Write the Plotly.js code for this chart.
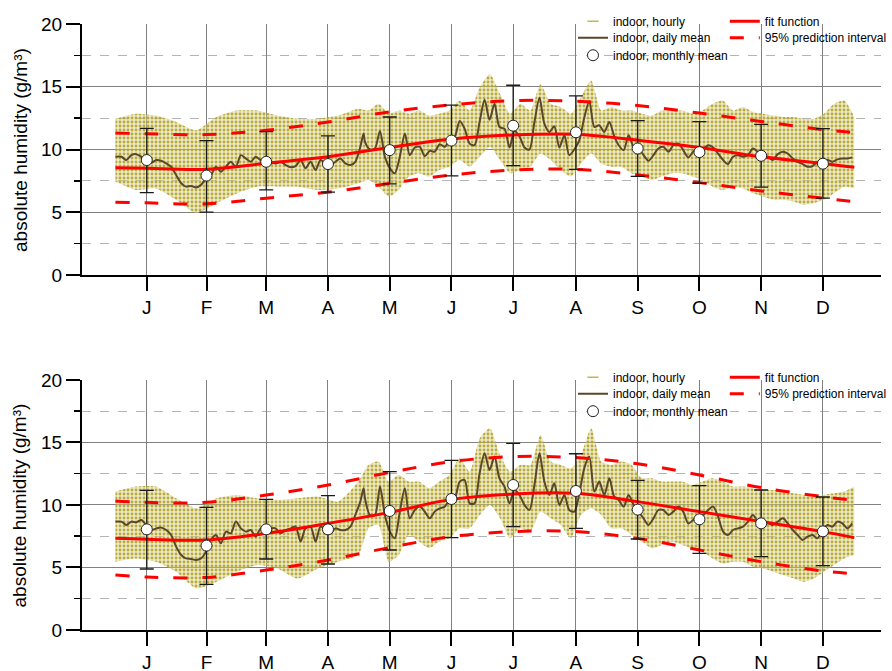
<!DOCTYPE html>
<html>
<head>
<meta charset="utf-8">
<script src="https://cdn.plot.ly/plotly-3.0.1.min.js"></script>
<style>html,body{margin:0;padding:0;background:#fff;}#chart{width:892px;height:671px;}</style>
</head>
<body>
<div id="chart"></div>
<script>
// ---------- axis labels ----------
const monthTickDays = [15.5,45,74.5,105,135.5,166,196.5,227.5,258,288.5,319,349.5];
const monthLabels = ['J','F','M','A','M','J','J','A','S','O','N','D'];

// ---------- daily mean (day of year) ----------
const dailyDaysA = [0,3,5.4,7.9,10.3,12.8,15.2,17.7,20.2,22.6,25.1,27.5,30,32.5,34.9,37.4,39.8,42.3,44.8,47.2,49.7,52.1,54.6,57,59.5,62,64.4,66.9,69.3,71.8,74.3,76.7,79.2,81.6,84.1,86.6,89,91.5,93.9,96.4,98.9,101.3,103.8,106.2,108.7,111.1,113.6,116.1,118.5,121,122.6];
const dailyDaysB = [123.3,125.7,128.2,130.7,133.1,135.6,138.0,140.5,143.0,145.4,147.9,150.4,152.8,155.3,157.7,160.2,162.7,165.1,167.6,170.1,172.5,175.0,177.4,179.9,182.4,184.8,187.3,189.7,192.2,194.7,197.1,199.6,202.1,204.5,207.0,209.5,211.9,214.4,216.8,219.3,221.8,224.2,226.7,229.2,231.6,234.1,236.6,239.0,241.5,244.0,246.4];
const dailyDaysC = [248.6,251.1,253.5,256.0,258.4,260.9,263.3,265.8,268.2,270.7,273.2,275.6,278.1,280.5,283.0,285.4,287.9,290.4,292.8,295.3,297.7,300.2,302.6,305.1,307.5,310.0,312.5,314.9,317.4,319.8,322.3,324.7,327.2,329.7,332.1,334.6,337.0,339.5,341.9,344.4,346.8,349.3,351.8,354.2,356.7,359.1,361.6,364.0];

const topDailyA = [9.42,9.42,9.16,9.55,9.63,9.42,9.16,8.94,9.16,9.10,8.89,8.63,7.97,7.31,7.04,7.10,6.97,7.18,7.70,7.97,8.63,8.23,8.63,9.02,8.63,9.55,9.29,9.02,9.42,9.16,9.16,9.02,8.89,9.02,8.76,8.58,8.68,9.16,8.50,9.02,8.36,9.16,8.89,8.76,9.02,9.29,8.89,8.76,9.02,10.21,11.27];
const topDailyB = [10.61,10.0,10.08,11.48,9.42,8.5,8.1,9.42,11.27,9.55,10.16,10.21,9.47,9.89,9.82,10.42,10.21,10.74,11.0,12.27,11.66,10.47,10.34,12.19,13.96,12.37,13.64,11.79,11.66,10.16,11.48,11.06,10.16,10.0,12.19,14.12,12.06,11.4,11.85,10.16,11.13,9.55,10.0,10.74,12.53,13.85,11.79,11.93,11.4,12.19,11.06];
const topDailyC = [10.34,9.95,11.13,10.21,10.08,9.55,9.1,9.55,10.08,10.21,9.82,10.34,10.47,9.95,9.37,9.82,10.08,10.08,10.34,10.16,9.68,9.16,8.84,9.42,9.55,9.42,9.55,10.08,9.82,9.55,9.42,9.16,9.63,9.82,9.68,9.29,9.02,8.84,8.63,8.68,9.02,8.84,9.16,9.02,9.21,9.29,9.29,9.37];

const botDailyA = [8.67,8.67,8.4,8.67,8.61,8.8,8.4,8.0,8.13,8.19,8.0,7.6,6.67,6.0,5.73,5.68,5.6,5.73,6.27,7.2,7.6,6.93,7.87,7.73,8.67,8.13,7.87,8.0,7.47,8.13,7.92,8.13,8.13,7.73,8.0,8.13,8.27,7.07,8.13,8.27,7.07,8.27,8.0,7.73,8.13,8.0,8.0,8.27,9.2,10.27,11.33];
const botDailyB = [10.53,9.2,9.2,11.47,9.2,7.87,7.33,9.47,11.33,8.93,9.6,9.87,9.47,8.93,9.47,9.73,9.87,10.4,10.53,11.87,12.0,10.13,10.13,12.53,14.13,12.8,13.87,12.13,11.47,10.13,11.2,10.8,10.0,9.6,11.6,14.13,11.87,10.8,11.73,10.0,10.8,9.6,9.47,10.93,12.93,13.87,11.07,11.87,10.8,12.13,10.67];
const botDailyC = [10.4,9.87,10.8,10.0,9.47,8.93,8.4,8.93,9.6,9.6,9.2,9.47,9.87,9.47,8.53,8.8,9.2,9.2,9.6,9.87,9.07,7.87,7.6,8.0,8.13,8.27,8.67,9.2,8.67,8.4,8.53,8.4,8.67,8.93,8.53,8.0,7.6,7.2,7.47,7.6,7.33,8.0,8.4,8.27,8.67,8.53,8.13,8.53];

// ---------- hourly spread (envelope of the hourly points) ----------
const envDays = [0,10,20,30,40,50,60,70,80,90,100,110,120,125,130,135,140,145,150,155,160,165,170,175,180,185,190,195,200,205,210,215,220,225,230,235,240,245,250,255,260,265,270,275,280,285,290,295,300,305,310,315,320,325,330,335,340,345,350,355,360,365];
const topHourlyHigh = [12.45,12.85,12.7,12.2,11.53,12.6,13.1,13.1,12.7,12.45,12.45,12.7,13.25,13.1,13.64,12.85,13.1,12.85,13.1,12.7,12.85,13.1,13.9,13.1,14.96,16.0,14.43,12.85,13.64,13.1,15.22,13.64,13.38,12.85,14.17,15.49,13.1,13.38,13.1,13.1,12.85,12.7,13.1,13.1,13.1,12.85,13.1,13.64,13.9,13.1,13.38,12.98,12.85,12.7,12.59,12.59,12.45,12.45,12.85,13.64,13.9,12.59];
const topHourlyLow = [7.44,6.78,6.9,6.0,4.93,5.73,6.5,7.04,7.04,7.04,6.78,6.9,7.3,7.57,7.04,6.25,6.78,7.84,8.1,7.84,8.36,8.63,9.16,8.63,9.42,10.2,9.16,8.1,8.36,8.63,9.68,9.16,8.36,7.84,8.89,9.68,8.89,8.63,8.63,8.1,7.84,7.57,7.84,8.1,8.1,7.84,7.57,7.04,6.78,7.04,6.9,6.52,6.25,5.99,5.99,5.86,5.59,5.73,5.99,6.52,7.04,6.9];
const botHourlyHigh = [11.07,11.47,11.47,10.53,9.73,10.53,10.8,10.53,10.4,10.53,10.67,10.27,11.87,13.2,13.47,11.87,12.4,11.87,11.87,11.33,11.87,12.4,13.73,12.67,15.33,16.13,14.0,12.67,13.2,13.2,15.6,13.47,13.2,12.93,14.0,16.13,13.47,13.2,13.47,13.2,12.13,12.13,11.87,11.87,11.87,11.6,11.87,12.13,11.87,11.47,11.47,11.33,11.2,11.2,11.07,10.93,10.8,10.67,10.8,10.93,11.07,11.47];
const botHourlyLow = [5.47,5.73,5.47,4.67,3.33,3.87,4.67,5.2,4.93,4.13,4.93,5.47,6.0,8.13,8.4,5.47,6.0,7.6,7.07,6.53,7.07,7.33,8.13,8.13,9.2,10.0,8.93,7.33,8.13,7.87,9.47,8.93,8.4,7.33,9.2,9.73,9.2,8.13,8.13,7.6,7.07,6.53,6.8,7.07,6.8,6.53,6.27,5.73,5.33,5.47,5.47,5.07,4.93,4.67,4.4,4.13,3.87,4.13,4.67,5.2,5.73,6.0];

// ---------- monthly means with error bars ----------
const topMonthly = [9.16,7.92,9.02,8.84,9.95,10.71,11.9,11.37,10.08,9.79,9.5,8.87];
const topMonthlyHigh = [11.69,10.71,11.42,11.08,12.59,13.54,15.12,14.27,12.3,12.22,12.0,11.66];
const topMonthlyLow = [6.57,5.01,6.78,6.6,7.26,7.89,8.71,8.42,7.86,7.31,7.0,6.12];
const botMonthly = [8.05,6.75,8.05,8.05,9.52,10.48,11.6,11.12,9.63,8.85,8.53,7.89];
const botMonthlyHigh = [11.17,9.81,10.45,10.75,12.67,13.57,14.93,14.1,11.97,11.55,11.2,10.64];
const botMonthlyLow = [4.88,3.65,5.68,5.28,6.4,7.39,8.27,8.13,7.28,6.13,5.87,5.15];

// ---------- fit function and 95% prediction interval ----------
const fitDays = [0,15.5,45,74.5,105,135.5,166,196.5,227.5,258,288.5,319,349.5,365];
const topFit = [8.55,8.5,8.42,8.9,9.42,10.16,10.84,11.16,11.21,10.74,10.16,9.42,8.89,8.58];
const topPIUpper = [11.32,11.25,11.19,11.53,12.19,13.0,13.56,13.9,13.85,13.5,12.9,12.24,11.58,11.35];
const topPILower = [5.8,5.75,5.67,6.12,6.6,7.3,7.97,8.36,8.42,7.97,7.36,6.7,6.12,5.85];
const botFit = [7.33,7.25,7.2,7.73,8.53,9.41,10.45,10.88,10.93,10.27,9.47,8.67,7.87,7.39];
const botPIUpper = [10.32,10.21,10.21,10.8,11.6,12.6,13.47,13.87,13.79,13.3,12.4,11.39,10.67,10.37];
const botPILower = [4.4,4.24,4.21,4.8,5.6,6.6,7.47,7.87,7.87,7.33,6.4,5.47,4.72,4.51];

// ---------- styles ----------
const DAILY_COL = '#5a4628';
const FIT_COL = '#ff0000';

function panelTraces(xa, ya, legs, hi, lo, daily, mMean, mHigh, mLow, fit, piU, piL) {
  const dailyDays = dailyDaysA.concat(dailyDaysB, dailyDaysC);
  return [
    {x: [null], y: [null], xaxis: xa, yaxis: ya, mode: 'markers', name: 'indoor, hourly', legend: legs[0],
     fill: 'none', marker: {symbol: 'line-ew', size: 8, color: '#c8b84a', line: {color: '#c8b84a', width: 1.5}}},
    {x: dailyDays, y: daily, xaxis: xa, yaxis: ya, mode: 'lines', name: 'indoor, daily mean', legend: legs[1],
     line: {color: DAILY_COL, width: 2, shape: 'spline', smoothing: 0.8}},
    {x: envDays, y: lo, xaxis: xa, yaxis: ya, mode: 'lines', line: {width: 0, shape: 'spline', smoothing: 0.6},
     showlegend: false, hoverinfo: 'skip', legend: 'legend11'},
    {x: envDays, y: hi, xaxis: xa, yaxis: ya, mode: 'lines', line: {width: 0, shape: 'spline', smoothing: 0.6},
     fill: 'tonexty', fillcolor: 'rgba(214,204,120,0.5)',
     fillpattern: {shape: '.', fgcolor: '#ad9f28', bgcolor: 'rgba(218,209,130,0.45)', fgopacity: 0.85, size: 4, solidity: 0.4},
     showlegend: false, hoverinfo: 'skip', legend: 'legend11'},
    {x: fitDays, y: fit, xaxis: xa, yaxis: ya, mode: 'lines', name: 'fit function', legend: legs[3],
     line: {color: FIT_COL, width: 3, shape: 'spline', smoothing: 1}},
    {x: fitDays, y: piU, xaxis: xa, yaxis: ya, mode: 'lines', name: '95% prediction interval', legend: legs[4],
     line: {color: FIT_COL, width: 3, dash: '14px,15px', shape: 'spline', smoothing: 1}},
    {x: fitDays, y: piL, xaxis: xa, yaxis: ya, mode: 'lines', name: '95% prediction interval', legend: legs[4],
     showlegend: false, line: {color: FIT_COL, width: 3, dash: '14px,15px', shape: 'spline', smoothing: 1}},
    {x: monthTickDays, y: mMean, xaxis: xa, yaxis: ya, mode: 'markers', name: 'indoor, monthly mean', legend: legs[2],
     marker: {symbol: 'circle', size: 11, color: '#ffffff', line: {color: '#222', width: 1}},
     error_y: {type: 'data', symmetric: false,
               array: mHigh.map((v, i) => v - mMean[i]),
               arrayminus: mMean.map((v, i) => v - mLow[i]),
               color: '#1a1a1a', thickness: 1.3, width: 7}}
  ];
}

// order: band first (drawn underneath), then lines and means
function reorder(t) { return [t[2], t[3], t[1], t[0], t[4], t[5], t[6], t[7]]; }

const traces = [].concat(
  reorder(panelTraces('x', 'y', ['legend', 'legend2', 'legend3', 'legend4', 'legend5'],
              topHourlyHigh, topHourlyLow,
              topDailyA.concat(topDailyB, topDailyC), topMonthly, topMonthlyHigh, topMonthlyLow,
              topFit, topPIUpper, topPILower)),
  reorder(panelTraces('x2', 'y2', ['legend6', 'legend7', 'legend8', 'legend9', 'legend10'],
              botHourlyHigh, botHourlyLow,
              botDailyA.concat(botDailyB, botDailyC), botMonthly, botMonthlyHigh, botMonthlyLow,
              botFit, botPIUpper, botPILower))
);

function xAxis(anchor) {
  return {
    anchor: anchor, domain: [0, 1], range: [-16.5, 378.2],
    tickmode: 'array', tickvals: monthTickDays, ticktext: monthLabels,
    ticks: 'outside', ticklen: 14, tickwidth: 2, tickcolor: '#000',
    showline: true, linecolor: '#000', linewidth: 2,
    showgrid: true, gridcolor: '#808080', gridwidth: 1,
    zeroline: false, tickfont: {size: 19, color: '#000'}, automargin: false
  };
}
function yAxis(anchor, domain) {
  return {
    anchor: anchor, domain: domain, range: [0, 20],
    tickmode: 'array', tickvals: [0, 5, 10, 15, 20],
    ticks: 'outside', ticklen: 14, tickwidth: 2, tickcolor: '#000',
    showline: true, linecolor: '#000', linewidth: 2,
    showgrid: true, gridcolor: '#808080', gridwidth: 1,
    zeroline: false, tickfont: {size: 19, color: '#000'}, automargin: false,
    minor: {tickvals: [2.5, 7.5, 12.5, 17.5], ticks: 'outside', ticklen: 6, tickwidth: 1.5, tickcolor: '#000',
            showgrid: true, gridcolor: '#b4b4b4', griddash: 'dash', gridwidth: 1}
  };
}
function leg(x, y) {
  return {x: x, y: y, xanchor: 'left', yanchor: 'top', bgcolor: 'rgba(0,0,0,0)', borderwidth: 0,
          font: {size: 12, color: '#000'}, tracegroupgap: 0};
}
const colA = 0.6145, colB = 0.8045;
const rowsTop = [0.990, 0.9654, 0.9393];
const rowsBot = [0.4595, 0.4349, 0.4088];

const layout = {
  width: 892, height: 671,
  margin: {l: 82, r: 6, t: 0, b: 0},
  paper_bgcolor: '#ffffff', plot_bgcolor: '#ffffff',
  font: {family: '"Liberation Sans", Arial, sans-serif', color: '#000'},
  showlegend: true,
  legend: leg(colA, rowsTop[0]), legend2: leg(colA, rowsTop[1]), legend3: leg(colA, rowsTop[2]),
  legend4: leg(colB, rowsTop[0]), legend5: leg(colB, rowsTop[1]),
  legend6: leg(colA, rowsBot[0]), legend7: leg(colA, rowsBot[1]), legend8: leg(colA, rowsBot[2]),
  legend9: leg(colB, rowsBot[0]), legend10: leg(colB, rowsBot[1]),
  legend11: Object.assign(leg(0, 0), {visible: false}),
  xaxis: xAxis('y'), yaxis: yAxis('x', [0.5902, 0.9642]),
  xaxis2: xAxis('y2'), yaxis2: yAxis('x2', [0.0611, 0.4337]),
  annotations: [
    {text: 'absolute humidity (g/m³)', xref: 'paper', yref: 'paper', x: -0.077, y: 0.7772,
     textangle: -90, showarrow: false, font: {size: 19, color: '#000'}, xanchor: 'center', yanchor: 'middle'},
    {text: 'absolute humidity (g/m³)', xref: 'paper', yref: 'paper', x: -0.077, y: 0.2474,
     textangle: -90, showarrow: false, font: {size: 19, color: '#000'}, xanchor: 'center', yanchor: 'middle'}
  ]
};

Plotly.newPlot('chart', traces, layout, {displayModeBar: false, staticPlot: true});
</script>
</body>
</html>
